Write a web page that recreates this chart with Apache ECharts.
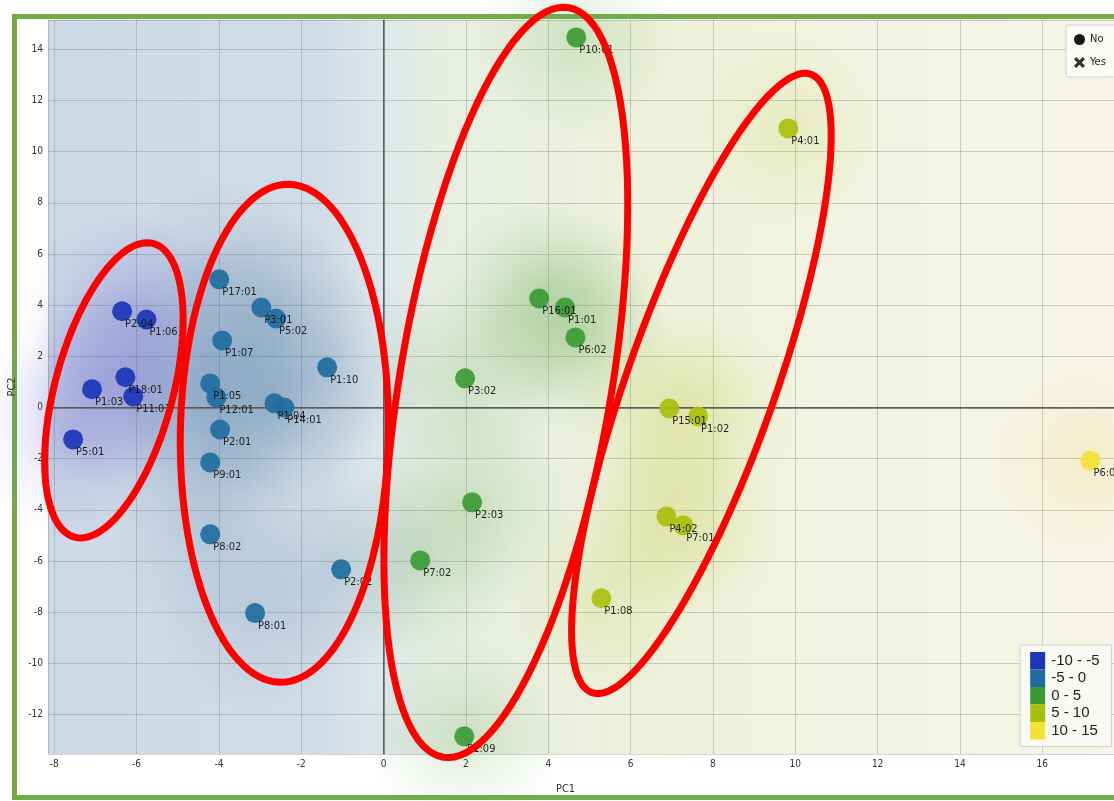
<!DOCTYPE html>
<html>
<head>
<meta charset="utf-8">
<script src="https://cdn.jsdelivr.net/npm/echarts@6/dist/echarts.min.js"></script>
<style>
  html, body { margin: 0; padding: 0; background: #ffffff; overflow: hidden; }
  #chart { width: 1114px; height: 801px; }
</style>
</head>
<body>
<div id="chart"></div>
<script>
// Sample scores on the first two principal components
const sampleNames = [
  'P2:04', 'P1:06', 'P18:01', 'P1:03', 'P11:01', 'P5:01',
  'P17:01', 'P3:01', 'P5:02', 'P1:07', 'P1:10', 'P1:05', 'P12:01', 'P1:04', 'P14:01',
  'P2:01', 'P9:01', 'P8:02', 'P2:02', 'P8:01',
  'P10:01', 'P16:01', 'P1:01', 'P6:02', 'P3:02', 'P2:03', 'P7:02', 'P1:09',
  'P4:01', 'P15:01', 'P1:02', 'P4:02', 'P7:01', 'P1:08',
  'P6:01'
];
const pc1 = [
  -6.35, -5.76, -6.27, -7.08, -6.08, -7.54,
  -3.99, -2.97, -2.61, -3.92, -1.37, -4.21, -4.06, -2.65, -2.41,
  -3.97, -4.21, -4.21, -1.03, -3.12,
  4.68, 3.78, 4.41, 4.66, 1.98, 2.15, 0.89, 1.96,
  9.83, 6.94, 7.64, 6.87, 7.28, 5.29,
  17.17
];
const pc2 = [
  3.76, 3.44, 1.18, 0.71, 0.43, -1.25,
  5.01, 3.91, 3.48, 2.62, 1.57, 0.94, 0.39, 0.16, 0.0,
  -0.86, -2.15, -4.96, -6.33, -8.04,
  14.47, 4.26, 3.91, 2.74, 1.14, -3.71, -5.98, -12.86,
  10.91, -0.04, -0.35, -4.26, -4.61, -7.46,
  -2.07
];

// Colour classes (PC1 ranges) shown in the lower legend
const classMin = [-10, -5, 0, 5, 10];
const classMax = [-5, 0, 5, 10, 15];
const classLabels = ['-10 - -5', '-5 - 0', '0 - 5', '5 - 10', '10 - 15'];
const classColors = ['#1b35b6', '#1f6ca0', '#3c9a36', '#a8c00c', '#f2e236'];
const haloRgb = ['120,120,210', '80,125,165', '105,175,90', '190,205,70', '240,215,120'];
const haloAlpha = [0.3, 0.2, 0.28, 0.26, 0.32];

// Marker legend
const markerNames = ['No', 'Yes'];

// Hand-drawn group outlines: centre (PC1, PC2), half-length, half-width (px), tilt (deg)
const groupOutlines = [
  [-6.55, 0.67, 152, 59, 15],
  [-2.41, -1.01, 249, 104, 1],
  [2.97, 0.98, 380, 106, 9.5],
  [7.72, 0.94, 328, 74, 19.5]
];

function classOf(v) {
  for (let i = 0; i < classMin.length; i++) {
    if (v < classMax[i] || i === classMin.length - 1) return i;
  }
  return classMin.length - 1;
}

const pointData = sampleNames.map((n, i) => [pc1[i], pc2[i], n]);

const haloData = sampleNames.map((n, i) => {
  const k = classOf(pc1[i]);
  const rgb = haloRgb[k];
  const al = haloAlpha[k];
  return {
    value: [pc1[i], pc2[i]],
    itemStyle: {
      color: {
        type: 'radial', x: 0.5, y: 0.5, r: 0.5,
        colorStops: [
          { offset: 0, color: 'rgba(' + rgb + ',' + al + ')' },
          { offset: 0.45, color: 'rgba(' + rgb + ',' + (al * 0.5) + ')' },
          { offset: 1, color: 'rgba(' + rgb + ',0)' }
        ]
      }
    }
  };
});

const fontAxis = '"DejaVu Sans Condensed", "DejaVu Sans", sans-serif';
const crossPath = 'path://M2,0 L5,3 L8,0 L10,2 L7,5 L10,8 L8,10 L5,7 L2,10 L0,8 L3,5 L0,2 Z';

const chart = echarts.init(document.getElementById('chart'), null, { renderer: 'canvas' });

const option = {
  backgroundColor: '#ffffff',
  animation: false,
  graphic: [
    {
      type: 'rect',
      z: 0,
      silent: true,
      shape: { x: 14.5, y: 16.5, width: 1200, height: 781 },
      style: { fill: 'none', stroke: '#70ad47', lineWidth: 5 }
    }
  ],
  grid: {
    left: 48, top: 20, width: 1089, height: 734,
    outerBoundsMode: 'none',
    show: true,
    z: 0,
    borderWidth: 0,
    backgroundColor: {
      type: 'linear', x: 0, y: 0, x2: 1, y2: 0,
      colorStops: [
        { offset: 0, color: '#cdd9e6' },
        { offset: 0.25, color: '#d0dce6' },
        { offset: 0.3, color: '#dce6ea' },
        { offset: 0.36, color: '#e7eee1' },
        { offset: 0.55, color: '#eef1da' },
        { offset: 0.72, color: '#f2f3e0' },
        { offset: 1, color: '#f6f5e6' }
      ]
    }
  },
  xAxis: {
    type: 'value',
    min: -8.15, max: 18.3,
    splitNumber: 13, minInterval: 2, maxInterval: 2,
    z: 2,
    name: 'PC1', nameLocation: 'middle', nameGap: 30,
    nameTextStyle: { fontFamily: fontAxis, fontSize: 11, color: '#333', padding: [0, 54, 0, 0] },
    axisLine: { show: true, lineStyle: { color: '#666', width: 1.5 } },
    axisTick: { show: false },
    axisLabel: { showMinLabel: false, showMaxLabel: false, margin: 5, fontFamily: fontAxis, fontSize: 10, color: '#333' },
    splitLine: { show: true, lineStyle: { color: 'rgba(90,90,90,0.26)', width: 1 } }
  },
  yAxis: {
    type: 'value',
    min: -13.55, max: 15.15,
    splitNumber: 14, minInterval: 2, maxInterval: 2,
    z: 2,
    name: 'PC2', nameLocation: 'middle', nameGap: 27,
    nameTextStyle: { fontFamily: fontAxis, fontSize: 11, color: '#333' },
    axisLine: { show: true, lineStyle: { color: '#666', width: 1.5 } },
    axisTick: { show: false },
    axisLabel: { showMinLabel: false, showMaxLabel: false, margin: 5, fontFamily: fontAxis, fontSize: 10, color: '#333' },
    splitLine: { show: true, lineStyle: { color: 'rgba(90,90,90,0.26)', width: 1 } }
  },
  legend: {
    orient: 'vertical',
    left: 1066, top: 25,
    padding: [9, 14, 9, 8],
    itemGap: 12,
    itemWidth: 11, itemHeight: 11,
    backgroundColor: '#fafaf6',
    borderColor: '#d2d2d2', borderWidth: 1, borderRadius: 3,
    selectedMode: false,
    textStyle: { fontFamily: fontAxis, fontSize: 11, color: '#222' },
    data: [
      { name: markerNames[0], icon: 'circle', itemStyle: { color: '#000' } },
      { name: markerNames[1], icon: crossPath, itemStyle: { color: '#000' } }
    ]
  },
  visualMap: {
    type: 'piecewise',
    seriesIndex: 1,
    dimension: 0,
    inverse: true,
    align: 'left',
    right: 2, bottom: 54,
    padding: [7, 12, 7, 10],
    itemWidth: 15, itemHeight: 17.5, itemGap: 0, itemSymbol: 'rect',
    textGap: 6,
    selectedMode: false,
    backgroundColor: 'rgba(250,250,246,0.92)',
    borderColor: '#d2d2d2', borderWidth: 1,
    textStyle: { fontFamily: '"Liberation Sans", Arial, sans-serif', fontSize: 15, color: '#222' },
    pieces: classLabels.map((lab, i) => (
      i === classLabels.length - 1
        ? { gte: classMin[i], label: lab, color: classColors[i] }
        : { gte: classMin[i], lt: classMax[i], label: lab, color: classColors[i] }
    ))
  },
  series: [
    {
      // soft density surface around each sample
      type: 'scatter',
      name: 'surface',
      z: 1,
      silent: true,
      symbol: 'circle',
      symbolSize: 200,
      data: haloData,
      markLine: {
        silent: true,
        symbol: 'none',
        label: { show: false },
        lineStyle: { color: 'rgba(70,70,70,0.55)', width: 1, type: 'solid' },
        data: [{ xAxis: 0 }, { yAxis: 0 }]
      }
    },
    {
      type: 'scatter',
      name: markerNames[0],
      z: 5,
      symbol: 'circle',
      symbolSize: 20,
      itemStyle: { opacity: 0.92 },
      label: {
        show: true,
        position: [13, 23],
        align: 'left',
        verticalAlign: 'middle',
        formatter: p => p.data[2],
        fontFamily: fontAxis,
        fontSize: 11,
        color: '#111'
      },
      data: pointData
    },
    {
      type: 'scatter',
      name: markerNames[1],
      symbol: crossPath,
      data: []
    },
    {
      // group outlines
      type: 'custom',
      name: 'outlines',
      z: 10,
      silent: true,
      clip: false,
      data: groupOutlines,
      renderItem: function (params, api) {
        const c = api.coord([api.value(0), api.value(1)]);
        const a = api.value(2), b = api.value(3);
        const t = api.value(4) * Math.PI / 180;
        const d = [Math.sin(t), -Math.cos(t)];
        const nrm = [Math.cos(t), Math.sin(t)];
        const pts = [];
        for (let k = 0; k < 120; k++) {
          const f = k / 120 * Math.PI * 2;
          const u = a * Math.cos(f), v = b * Math.sin(f);
          pts.push([c[0] + u * d[0] + v * nrm[0], c[1] + u * d[1] + v * nrm[1]]);
        }
        return {
          type: 'polygon',
          shape: { points: pts },
          style: { fill: 'none', stroke: '#ff0000', lineWidth: 7 }
        };
      }
    }
  ]
};

chart.setOption(option);
</script>
</body>
</html>
